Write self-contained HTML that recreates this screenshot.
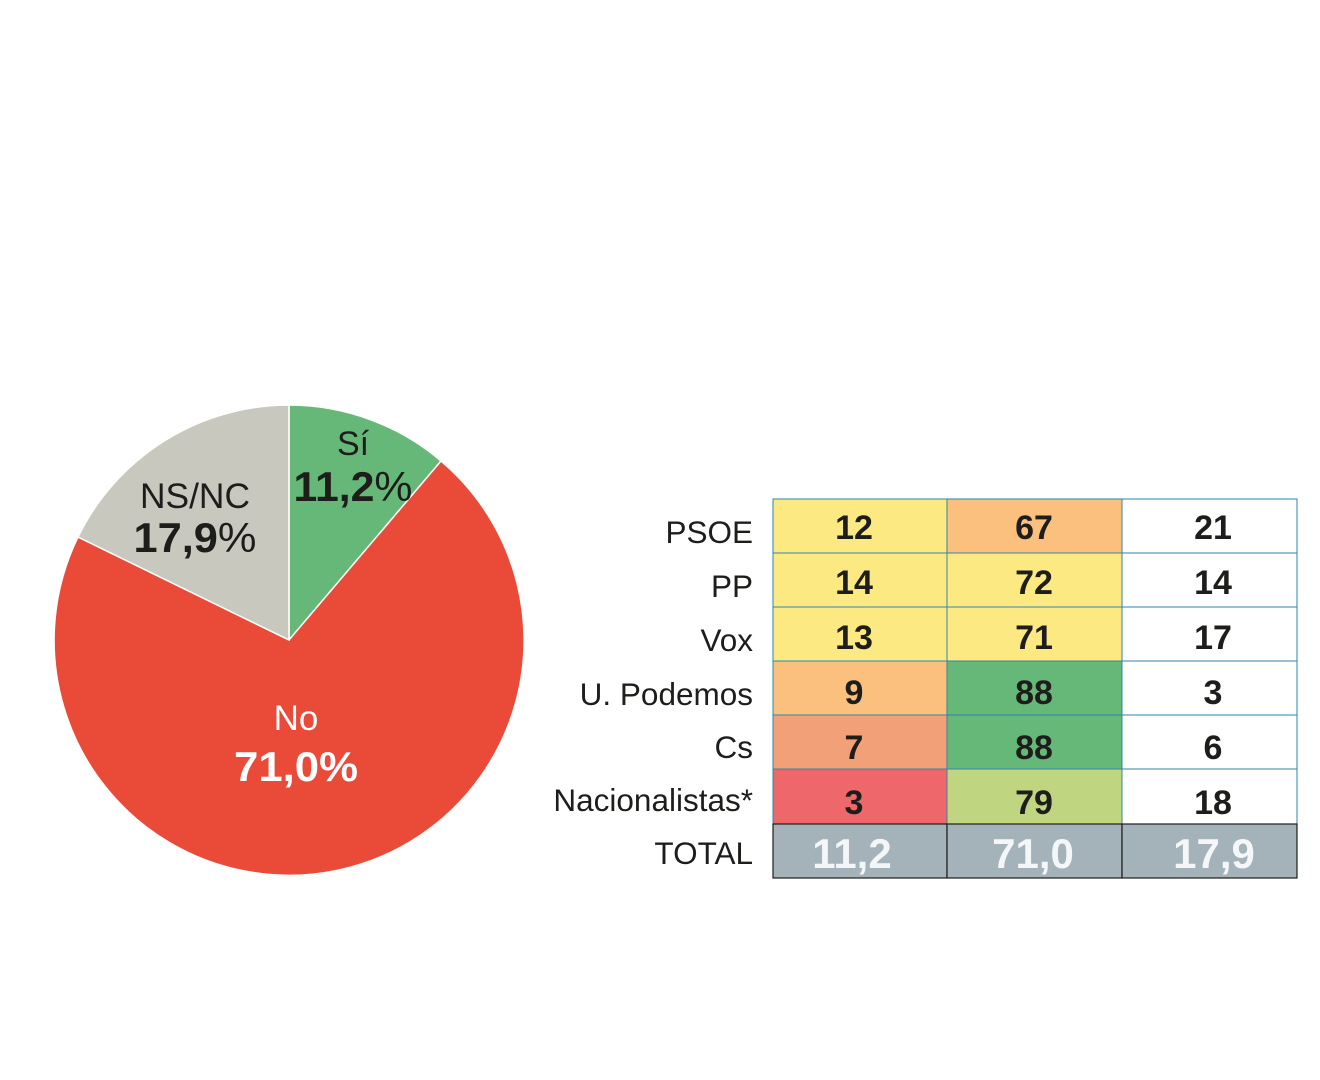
<!DOCTYPE html>
<html><head><meta charset="utf-8"><style>body{margin:0;background:#fff}svg{display:block}</style></head>
<body>
<svg width="1320" height="1080" xmlns="http://www.w3.org/2000/svg" font-family="Liberation Sans, sans-serif">
<path d="M289,640 L289,405 A235,235 0 0 1 441,461 Z" fill="#66b879" stroke="#fff" stroke-width="1.5"/>
<path d="M289,640 L441,461 A235,235 0 1 1 78,537 Z" fill="#e94b38" stroke="#fff" stroke-width="1.5"/>
<path d="M289,640 L78,537 A235,235 0 0 1 289,405 Z" fill="#c8c8be" stroke="#fff" stroke-width="1.5"/>
<g fill="#1d1d1b" text-anchor="middle">
<text x="353" y="455" font-size="34">Sí</text>
<text x="353" y="501" font-size="42" font-weight="bold" textLength="119" lengthAdjust="spacingAndGlyphs">11,2<tspan font-weight="normal">%</tspan></text>
<text x="195" y="508" font-size="35" textLength="110" lengthAdjust="spacingAndGlyphs">NS/NC</text>
<text x="195" y="552" font-size="42" font-weight="bold" textLength="123" lengthAdjust="spacingAndGlyphs">17,9<tspan font-weight="normal">%</tspan></text>
</g>
<g fill="#fff" text-anchor="middle">
<text x="296" y="730" font-size="35">No</text>
<text x="296" y="781" font-size="42" font-weight="bold" textLength="124" lengthAdjust="spacingAndGlyphs">71,0%</text>
</g>
<g stroke="#2e86a8" stroke-width="1">
<rect x="773" y="499" width="174" height="54" fill="#fde981"/>
<rect x="947" y="499" width="175" height="54" fill="#fbc07d"/>
<rect x="1122" y="499" width="175" height="54" fill="#fff"/>
<rect x="773" y="553" width="174" height="54" fill="#fde981"/>
<rect x="947" y="553" width="175" height="54" fill="#fde981"/>
<rect x="1122" y="553" width="175" height="54" fill="#fff"/>
<rect x="773" y="607" width="174" height="54" fill="#fde981"/>
<rect x="947" y="607" width="175" height="54" fill="#fde981"/>
<rect x="1122" y="607" width="175" height="54" fill="#fff"/>
<rect x="773" y="661" width="174" height="54" fill="#fbc07d"/>
<rect x="947" y="661" width="175" height="54" fill="#66b879"/>
<rect x="1122" y="661" width="175" height="54" fill="#fff"/>
<rect x="773" y="715" width="174" height="54" fill="#f2a077"/>
<rect x="947" y="715" width="175" height="54" fill="#66b879"/>
<rect x="1122" y="715" width="175" height="54" fill="#fff"/>
<rect x="773" y="769" width="174" height="55" fill="#ee676b"/>
<rect x="947" y="769" width="175" height="55" fill="#c0d580"/>
<rect x="1122" y="769" width="175" height="55" fill="#fff"/>
</g>
<g stroke="#1d1d1b" stroke-width="1.2" fill="#a4b2b9">
<rect x="773" y="824" width="174" height="54"/>
<rect x="947" y="824" width="175" height="54"/>
<rect x="1122" y="824" width="175" height="54"/>
</g>
<g fill="#1d1d1b" font-size="34" font-weight="bold" text-anchor="middle">
<text x="854" y="539">12</text><text x="1034" y="539">67</text><text x="1213" y="539">21</text>
<text x="854" y="594">14</text><text x="1034" y="594">72</text><text x="1213" y="594">14</text>
<text x="854" y="649">13</text><text x="1034" y="649">71</text><text x="1213" y="649">17</text>
<text x="854" y="704">9</text><text x="1034" y="704">88</text><text x="1213" y="704">3</text>
<text x="854" y="759">7</text><text x="1034" y="759">88</text><text x="1213" y="759">6</text>
<text x="854" y="814">3</text><text x="1034" y="814">79</text><text x="1213" y="814">18</text>
</g>
<g fill="#f4f6f7" font-size="42" font-weight="bold" text-anchor="middle">
<text x="852" y="868">11,2</text><text x="1033" y="868">71,0</text><text x="1214" y="868">17,9</text>
</g>
<g fill="#1d1d1b" font-size="31.5" text-anchor="end">
<text x="753" y="543">PSOE</text>
<text x="753" y="597">PP</text>
<text x="753" y="651">Vox</text>
<text x="753" y="705">U. Podemos</text>
<text x="753" y="758">Cs</text>
<text x="753" y="811">Nacionalistas*</text>
<text x="753" y="864">TOTAL</text>
</g>
</svg>
</body></html>
